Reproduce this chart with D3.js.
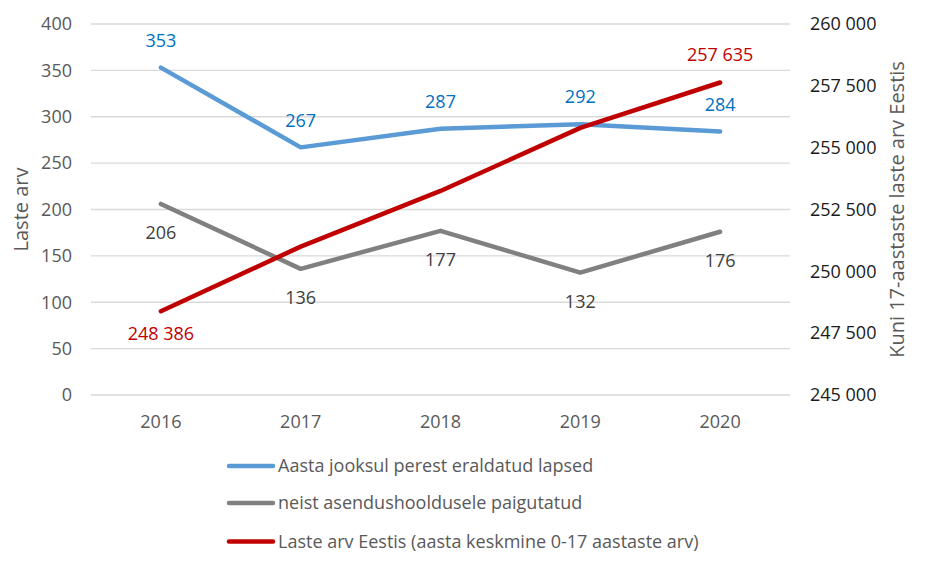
<!DOCTYPE html>
<html><head><meta charset="utf-8">
<script src="https://cdn.jsdelivr.net/npm/d3@7"></script>
<style>body{margin:0;background:#fff}svg{display:block}text{font-family:"Open Sans",sans-serif}</style>
</head><body><svg id="c" width="928" height="568"></svg>
<script>
const years = ["2016","2017","2018","2019","2020"];
const separated = [353, 267, 287, 292, 284];
const fosterCare = [206, 136, 177, 132, 176];
const childrenEstonia = [248386, 251000, 253250, 255800, 257635];
const leftTicks = [0,50,100,150,200,250,300,350,400];
const rightTicks = [245000,247500,250000,252500,255000,257500,260000];
const seriesNames = ["Aasta jooksul perest eraldatud lapsed","neist asendushooldusele paigutatud","Laste arv Eestis (aasta keskmine 0-17 aastaste arv)"];

const svg = d3.select("#c");
const L = 91, R = 790, T = 24, B = 395;
const x = d3.scaleBand().domain(years).range([L, R]);
const yL = d3.scaleLinear().domain([0,400]).range([B, T]);
const yR = d3.scaleLinear().domain([245000,260000]).range([B, T]);
const cx = d => x(d) + x.bandwidth()/2;
const fmt = v => d3.format(",")(v).replace(/,/g, " ");

// gridlines
svg.append("g").selectAll("line").data(leftTicks).join("line")
  .attr("x1", L).attr("x2", R).attr("y1", d=>yL(d)).attr("y2", d=>yL(d))
  .attr("stroke", "#d9d9d9").attr("stroke-width", 1.3);

// left axis
const gl = svg.append("g").attr("transform", `translate(${L},0)`)
  .call(d3.axisLeft(yL).tickValues(leftTicks).tickSize(0).tickPadding(19));
gl.select(".domain").remove();
gl.selectAll("text").attr("font-size", 18).attr("fill", "#595959").attr("font-family","Open Sans");

// right axis
const gr = svg.append("g").attr("transform", `translate(${R},0)`)
  .call(d3.axisRight(yR).tickValues(rightTicks).tickSize(0).tickPadding(20).tickFormat(fmt));
gr.select(".domain").remove();
gr.selectAll("text").attr("font-size", 18).attr("fill", "#1a1a1a").attr("font-family","Open Sans");

// x axis
const gx = svg.append("g").attr("transform", `translate(0,${B})`)
  .call(d3.axisBottom(x).tickSize(0).tickPadding(20));
gx.select(".domain").remove();
gx.selectAll("text").attr("font-size", 18).attr("fill", "#595959").attr("font-family","Open Sans");

// axis titles
svg.append("text").attr("transform", `translate(28,${(T+B)/2}) rotate(-90)`)
  .attr("text-anchor","middle").attr("font-size", 20).attr("fill","#595959").text("Laste arv");
svg.append("text").attr("transform", `translate(904,${(T+B)/2}) rotate(-90)`)
  .attr("text-anchor","middle").attr("font-size", 20).attr("fill","#595959").text("Kuni 17-aastaste laste arv Eestis");

const colors = ["#5B9BD5", "#808080", "#C00000"];
const lineL = d3.line().x((d,i)=>cx(years[i])).y(d=>yL(d));
const lineR = d3.line().x((d,i)=>cx(years[i])).y(d=>yR(d));

svg.append("path").attr("d", lineL(fosterCare)).attr("fill","none").attr("stroke",colors[1]).attr("stroke-width",4.5).attr("stroke-linejoin","round").attr("stroke-linecap","round");
svg.append("path").attr("d", lineL(separated)).attr("fill","none").attr("stroke",colors[0]).attr("stroke-width",4.5).attr("stroke-linejoin","round").attr("stroke-linecap","round");
svg.append("path").attr("d", lineR(childrenEstonia)).attr("fill","none").attr("stroke",colors[2]).attr("stroke-width",4.5).attr("stroke-linejoin","round").attr("stroke-linecap","round");

// data labels
svg.append("g").selectAll("text").data(separated).join("text")
  .attr("x",(d,i)=>cx(years[i])).attr("y",d=>yL(d)-27).attr("dy","0.35em")
  .attr("text-anchor","middle").attr("font-size",18).attr("fill","#0070C0").text(d=>d);
svg.append("g").selectAll("text").data(fosterCare).join("text")
  .attr("x",(d,i)=>cx(years[i])).attr("y",d=>yL(d)+29).attr("dy","0.35em")
  .attr("text-anchor","middle").attr("font-size",18).attr("fill","#404040").text(d=>d);
const redIdx = [0, 4];
const redOff = [22, -28];
svg.append("g").selectAll("text").data(redIdx).join("text")
  .attr("x",i=>cx(years[i])).attr("y",(i,k)=>yR(childrenEstonia[i])+redOff[k]).attr("dy","0.35em")
  .attr("text-anchor","middle").attr("font-size",18).attr("fill","#C00000").text(i=>fmt(childrenEstonia[i]));

// legend
const legY = [466, 503, 541.5];
const lg = svg.append("g").selectAll("g").data(seriesNames).join("g")
  .attr("transform",(d,i)=>`translate(229,${legY[i]})`);
lg.append("line").attr("x1",0).attr("x2",44).attr("stroke",(d,i)=>colors[i]).attr("stroke-width",4.5).attr("stroke-linecap","round");
lg.append("text").attr("x",49).attr("dy","0.35em").attr("font-size",18).attr("fill","#595959").text(d=>d);
</script></body></html>
